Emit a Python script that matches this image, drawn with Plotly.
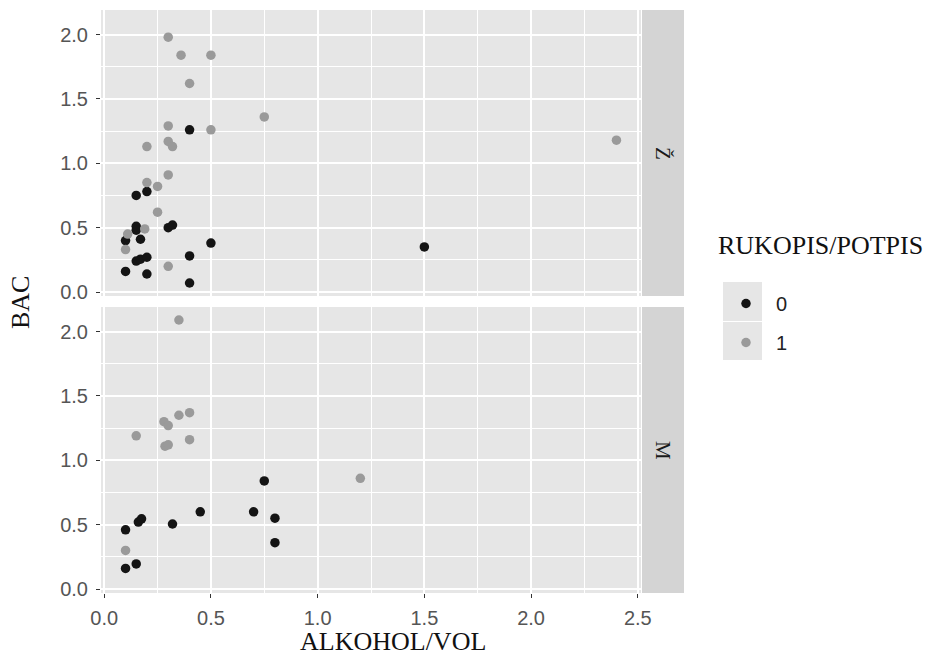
import plotly.graph_objects as go

W, H = 930, 657

# ---- data ----
facets = ["Ž", "M"]
groups = ["0", "1"]

top_x0 = [0.4, 0.15, 0.2, 0.15, 0.15, 0.3, 0.32, 0.1, 0.17, 0.5, 0.15, 0.17, 0.2, 0.4, 0.1, 0.2, 0.4, 1.5]
top_y0 = [1.26, 0.75, 0.78, 0.51, 0.48, 0.50, 0.52, 0.40, 0.41, 0.38, 0.24, 0.255, 0.27, 0.28, 0.16, 0.14, 0.07, 0.35]
top_x1 = [0.3, 0.36, 0.5, 0.4, 0.75, 0.3, 0.5, 0.2, 0.3, 0.32, 0.3, 0.2, 0.25, 0.25, 0.19, 0.11, 0.1, 0.3, 2.4]
top_y1 = [1.98, 1.84, 1.84, 1.62, 1.36, 1.29, 1.26, 1.13, 1.17, 1.13, 0.91, 0.85, 0.82, 0.62, 0.49, 0.45, 0.33, 0.20, 1.18]

bot_x0 = [0.75, 0.45, 0.7, 0.8, 0.8, 0.32, 0.16, 0.175, 0.1, 0.15, 0.1]
bot_y0 = [0.84, 0.60, 0.60, 0.55, 0.36, 0.505, 0.52, 0.545, 0.46, 0.195, 0.16]
bot_x1 = [0.35, 0.28, 0.3, 0.35, 0.4, 0.15, 0.285, 0.3, 0.4, 0.1, 1.2]
bot_y1 = [2.09, 1.30, 1.27, 1.35, 1.37, 1.19, 1.11, 1.12, 1.16, 0.30, 0.86]

tick_vals = [0.0, 0.5, 1.0, 1.5, 2.0, 2.5]
tick_text = ["0.0", "0.5", "1.0", "1.5", "2.0", "2.5"]
ytick_vals = [0.0, 0.5, 1.0, 1.5, 2.0]
ytick_text = ["0.0", "0.5", "1.0", "1.5", "2.0"]

colors = {"0": "#141414", "1": "#9a9a9a"}
x_title = "ALKOHOL/VOL"
y_title = "BAC"
legend_title = "RUKOPIS/POTPIS"

# ---- layout geometry (pixels) ----
px_l, px_r = 101, 641
top_t, top_b = 10, 296
bot_t, bot_b = 307, 593
strip_l, strip_r = 642, 684

def fx(p):
    return p / W

def fy(p):
    return 1 - p / H

panel_bg = "#E6E6E6"
strip_bg = "#D4D4D4"
sans = "Liberation Sans, Arial, sans-serif"
serif = "Liberation Serif, Times New Roman, serif"
tick_font = dict(family=sans, size=20, color="#555555")

fig = go.Figure()

data = {
    ("Ž", "0"): (top_x0, top_y0),
    ("Ž", "1"): (top_x1, top_y1),
    ("M", "0"): (bot_x0, bot_y0),
    ("M", "1"): (bot_x1, bot_y1),
}

for fi, f in enumerate(facets):
    for g in groups:
        xs, ys = data[(f, g)]
        fig.add_trace(go.Scatter(
            x=xs, y=ys, mode="markers",
            marker=dict(color=colors[g], size=9.5, line=dict(width=0)),
            name=g, legendgroup=g, showlegend=(fi == 0),
            xaxis="x" if fi == 0 else "x2",
            yaxis="y" if fi == 0 else "y2",
        ))

xrange = [-0.015, 2.515]
yrange = [-0.031, 2.191]

minor = dict(tick0=0.25, dtick=0.5, showgrid=True, gridcolor="white", gridwidth=0.7, ticks="")
common_x = dict(
    range=xrange, showgrid=True, gridcolor="white", gridwidth=1.5,
    zeroline=False, showline=False, automargin=False,
    tickvals=tick_vals, ticktext=tick_text,
    minor=minor, tickfont=tick_font,
)
common_y = dict(
    range=yrange, showgrid=True, gridcolor="white", gridwidth=1.5,
    zeroline=False, showline=False, automargin=False,
    tickvals=ytick_vals, ticktext=ytick_text,
    ticks="outside", ticklen=4, tickwidth=1, tickcolor="#333333",
    ticklabelstandoff=4,
    minor=minor, tickfont=tick_font,
)

fig.update_layout(
    width=W, height=H,
    margin=dict(l=0, r=0, t=0, b=0, autoexpand=False),
    paper_bgcolor="white",
    plot_bgcolor=panel_bg,
    xaxis=dict(common_x, domain=[fx(px_l), fx(px_r)], anchor="y",
               showticklabels=False, ticks=""),
    yaxis=dict(common_y, domain=[fy(top_b), fy(top_t)], anchor="x"),
    xaxis2=dict(common_x, domain=[fx(px_l), fx(px_r)], anchor="y2",
                ticks="outside", ticklen=4, tickwidth=1, tickcolor="#333333",
                ticklabelstandoff=3),
    yaxis2=dict(common_y, domain=[fy(bot_b), fy(bot_t)], anchor="x2"),
    showlegend=True,
    legend=dict(
        x=fx(716), y=fy(284), xanchor="left", yanchor="top",
        bgcolor="rgba(0,0,0,0)", borderwidth=0,
        font=dict(family=sans, size=20, color="#222222"),
        itemwidth=50, traceorder="grouped", tracegroupgap=10,
    ),
)

shapes = []
# strips
for (t, b) in [(top_t, top_b), (bot_t, bot_b)]:
    shapes.append(dict(type="rect", xref="paper", yref="paper",
                       x0=fx(strip_l), x1=fx(strip_r), y0=fy(b), y1=fy(t),
                       fillcolor=strip_bg, line=dict(width=0), layer="below"))
# legend key backgrounds
for (t, b) in [(282, 321), (322, 360)]:
    shapes.append(dict(type="rect", xref="paper", yref="paper",
                       x0=fx(723), x1=fx(762), y0=fy(b), y1=fy(t),
                       fillcolor=panel_bg, line=dict(width=0), layer="below"))
fig.update_layout(shapes=shapes)

annotations = [
    dict(text=facets[0], x=fx((strip_l + strip_r) / 2), y=fy((top_t + top_b) / 2),
         xref="paper", yref="paper", showarrow=False, textangle=90,
         xanchor="center", yanchor="middle",
         font=dict(family=serif, size=21, color="#1a1a1a")),
    dict(text=facets[1], x=fx((strip_l + strip_r) / 2), y=fy((bot_t + bot_b) / 2),
         xref="paper", yref="paper", showarrow=False, textangle=90,
         xanchor="center", yanchor="middle",
         font=dict(family=serif, size=21, color="#1a1a1a")),
    dict(text=x_title, x=fx(393), y=fy(641), xref="paper", yref="paper",
         xanchor="center", yanchor="middle",
         showarrow=False, font=dict(family=serif, size=26, color="#111111")),
    dict(text=y_title, x=fx(21), y=fy(303), xref="paper", yref="paper",
         xanchor="center", yanchor="middle",
         showarrow=False, textangle=-90, font=dict(family=serif, size=26, color="#111111")),
    dict(text=legend_title, x=fx(716), y=fy(245), xref="paper", yref="paper",
         xanchor="left", yanchor="middle",
         showarrow=False, font=dict(family=serif, size=26, color="#111111")),
]
fig.update_layout(annotations=annotations)

fig.write_html("out.html")
